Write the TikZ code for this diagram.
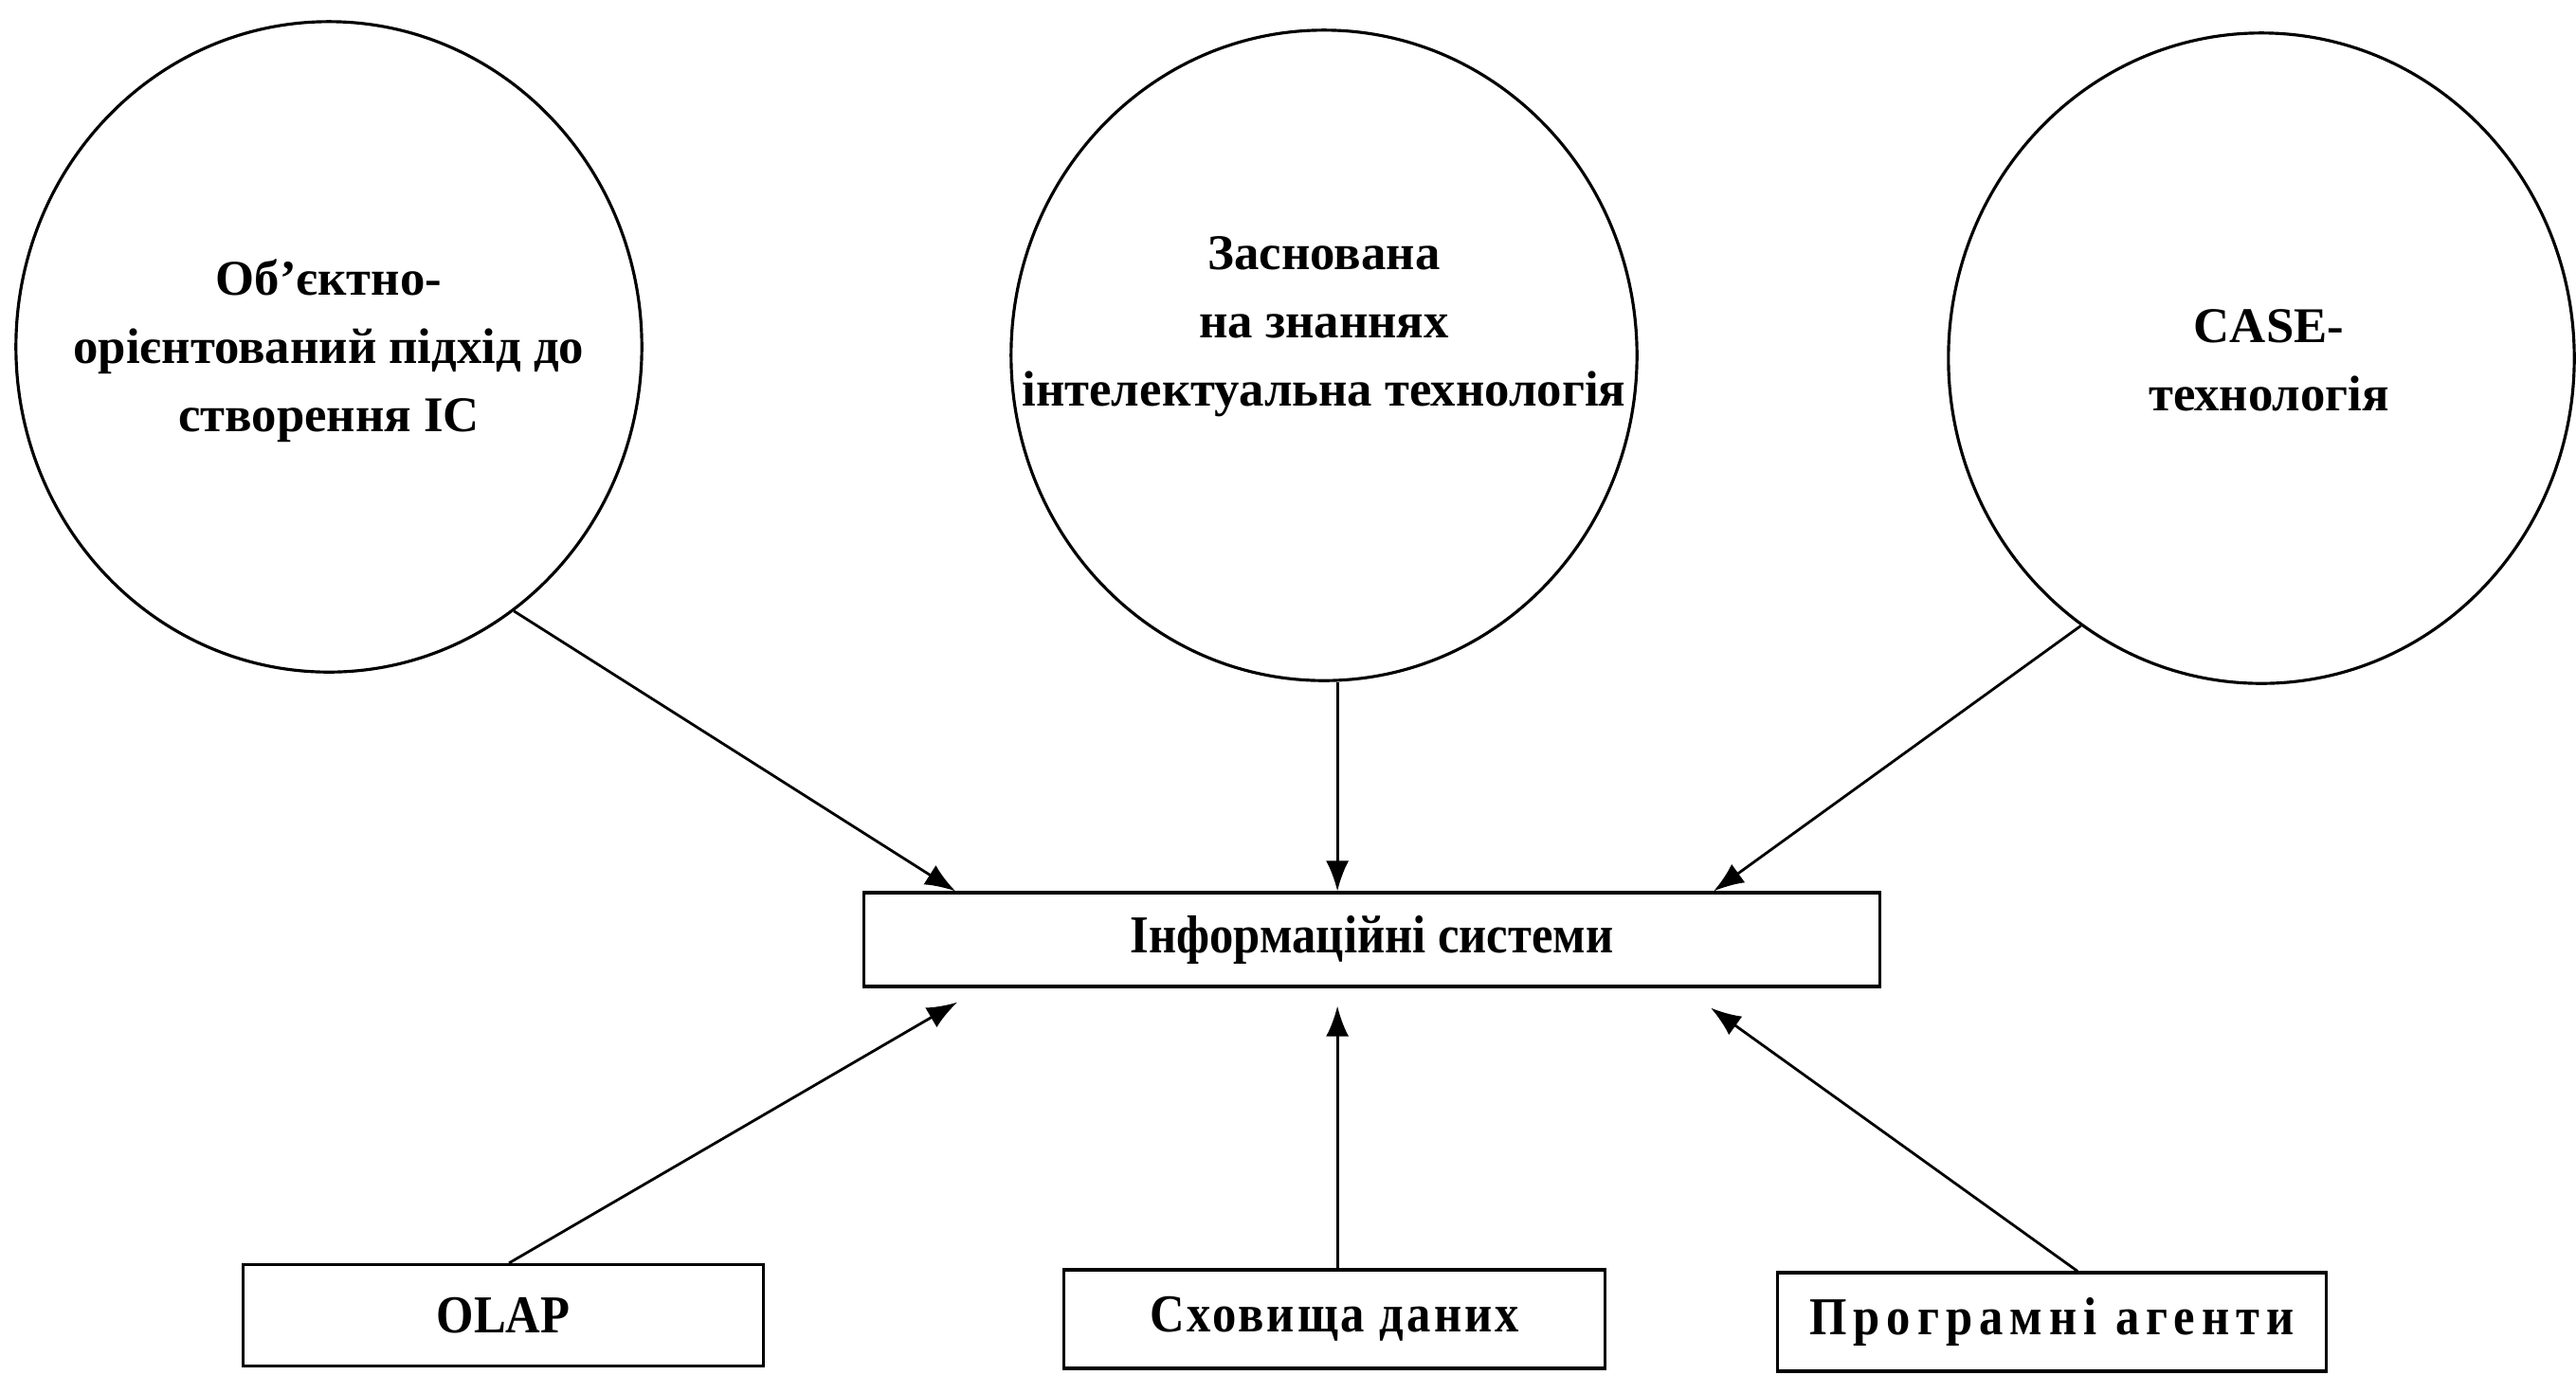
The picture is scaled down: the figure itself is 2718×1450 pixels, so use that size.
\documentclass[tikz,border=0pt]{standalone}
\usepackage{fontspec}
\setmainfont{Liberation Serif}
\usetikzlibrary{shapes.geometric,arrows.meta,calc}
\begin{document}
\begin{tikzpicture}[x=0.01cm,y=-0.01cm,
  ringtxt/.style={font=\fontsize{15}{20.5}\selectfont\bfseries},
  boxtxt/.style={font=\fontsize{16}{20}\selectfont\bfseries\addfontfeatures{FakeStretch=0.9}},
  ring/.style={draw,ellipse,line width=0.9pt,inner sep=0pt,
    minimum width=6.6cm,minimum height=6.86cm},
  lbl/.style={ringtxt,align=center,inner sep=0pt},
  box/.style={draw,rectangle,line width=0.9pt,inner sep=0pt,boxtxt},
  arr/.style={line width=0.8pt,-{Latex[length=3.2mm,width=2.4mm]}}]
\useasboundingbox (0,0) rectangle (2718,1450);
\fill[white] (0,0) rectangle (2718,1450);

% the three approaches
\node[ring] (c1) at (347,366) {};
\node[ring] (c2) at (1397,375) {};
\node[ring] (c3) at (2386,378) {};
\node[lbl] (c1t) at (347,370) {Об’єктно-\\орієнтований підхід до\\створення ІС};
\node[lbl] (c2t) at (1397,345) {Заснована\\на знаннях\\інтелектуальна технологія};
\node[lbl] (c3t) at (2394,380) {CASE-\\технологія};

% central block
\node[box,minimum width=10.71cm,minimum height=0.99cm] (info) at (1447.5,991.5) {Інформаційні системи};

% supporting tools
\node[box,minimum width=5.49cm,minimum height=1.07cm] (olap) at (531,1388) {OLAP};
\node[box,minimum width=5.70cm,minimum height=1.04cm] (dwh) at (1408,1392)
  {\addfontfeatures{LetterSpace=5.5}Сховища даних};
\node[box,minimum width=5.79cm,minimum height=1.04cm] (agents) at (2165,1395)
  {\addfontfeatures{LetterSpace=12.5}Програмні агенти};

% arrow end points on the central block
\coordinate (t1) at ($(info.north west)+(98,0)$);
\coordinate (t2) at ($(info.north west)+(501,0)$);
\coordinate (t3) at ($(info.north west)+(898,0)$);
\coordinate (b1) at ($(info.south west)+(100,15)$);
\coordinate (b2) at ($(info.south west)+(501,19)$);
\coordinate (b3) at ($(info.south west)+(895,21)$);
\coordinate (s2) at (t2 |- c2.south);
\coordinate (u1) at ($(olap.north)+(6,0)$);
\coordinate (u2) at (b2 |- dwh.north);
\coordinate (u3) at ($(agents.north)+(27,0)$);

\draw[arr] (c1.-55.7) -- (t1);
\draw[arr] (s2) -- (t2);
\draw[arr] (c3.-124.2) -- (t3);
\draw[arr] (u1) -- (b1);
\draw[arr] (u2) -- (b2);
\draw[arr] (u3) -- (b3);
\end{tikzpicture}
\end{document}
